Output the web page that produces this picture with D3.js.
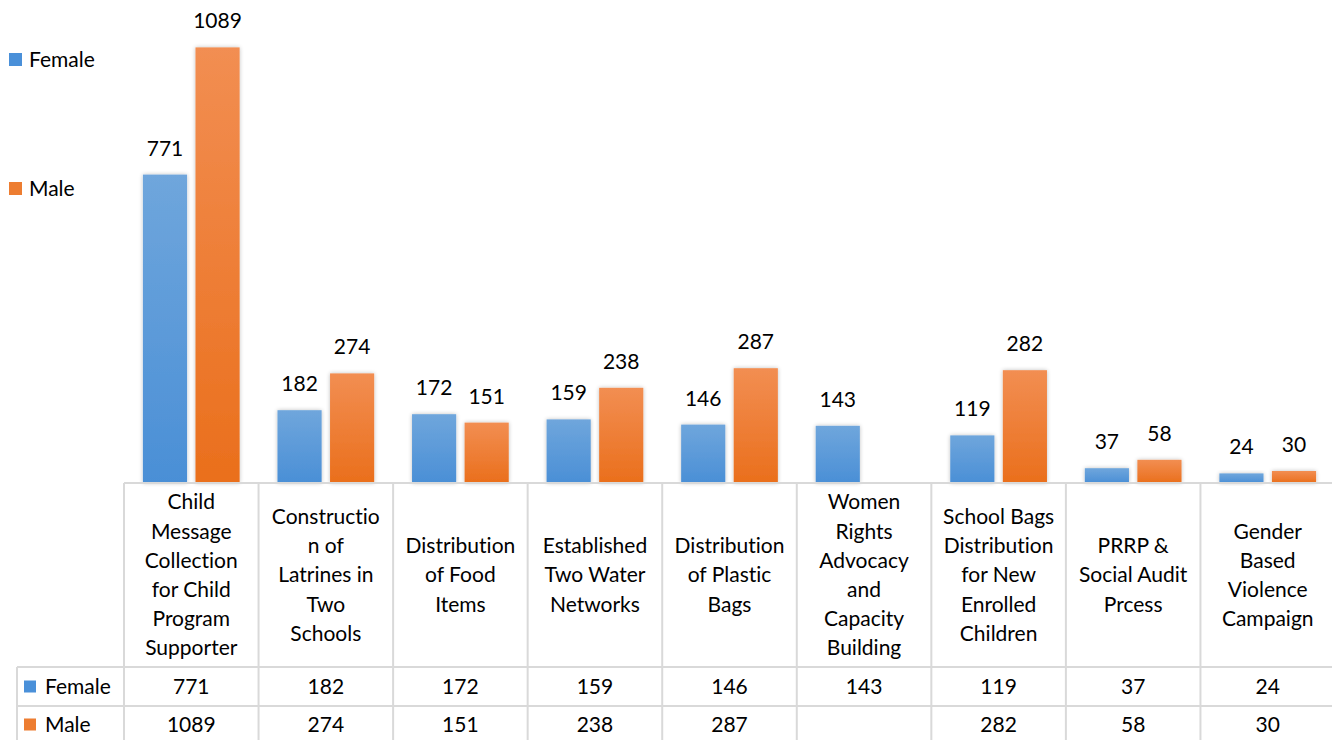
<!DOCTYPE html>
<html><head><meta charset="utf-8">
<script src="https://cdn.jsdelivr.net/npm/d3@7"></script>
<style>body{margin:0;background:#fff}svg{display:block}text{font-variant-ligatures:none;font-feature-settings:"liga" 0}</style>
</head><body>
<script>
const categories = [
  ["Child","Message","Collection","for Child","Program","Supporter"],
  ["Constructio","n of","Latrines in","Two","Schools"],
  ["Distribution","of Food","Items"],
  ["Established","Two Water","Networks"],
  ["Distribution","of Plastic","Bags"],
  ["Women","Rights","Advocacy","and","Capacity","Building"],
  ["School Bags","Distribution","for New","Enrolled","Children"],
  ["PRRP &","Social Audit","Prcess"],
  ["Gender","Based","Violence","Campaign"]
];
const seriesNames = ["Female","Male"];
const female = [771,182,172,159,146,143,119,37,24];
const male = [1089,274,151,238,287,null,282,58,30];

const W=1332,H=740;
const svg=d3.select("body").append("svg").attr("width",W).attr("height",H);
const font="Lato, 'Open Sans', sans-serif";
const fs=21;
const defs=svg.append("defs");
function grad(id,c1,c2){const g=defs.append("linearGradient").attr("id",id).attr("x1",0).attr("y1",0).attr("x2",0).attr("y2",1);
 g.append("stop").attr("offset","0%").attr("stop-color",c1);g.append("stop").attr("offset","100%").attr("stop-color",c2);}
grad("gF","#6fa6dc","#4a8fd6");
grad("gM","#f28e52","#ea6f1c");
const f=defs.append("filter").attr("id","sh").attr("x","-30%").attr("y","-30%").attr("width","160%").attr("height","160%");
f.append("feGaussianBlur").attr("in","SourceAlpha").attr("stdDeviation",2).attr("result","b");
f.append("feComponentTransfer").attr("in","b").attr("result","b2").append("feFuncA").attr("type","linear").attr("slope",0.25);
const m=f.append("feMerge");m.append("feMergeNode").attr("in","b2");m.append("feMergeNode").attr("in","SourceGraphic");

const x0=d3.scaleBand().domain(d3.range(categories.length)).range([124,1335]).paddingInner(0).paddingOuter(0);
const x1=d3.scaleBand().domain(seriesNames).range([0,x0.bandwidth()]).paddingInner(0.16).paddingOuter(0.36);
const y=d3.scaleLinear().domain([0,1200]).range([483,3]);
const series=[{name:"Female",vals:female,fill:"url(#gF)",key:"#4a90d9"},{name:"Male",vals:male,fill:"url(#gM)",key:"#ed7d31"}];

series.forEach(s=>{
  const g=svg.append("g");
  s.vals.forEach((v,i)=>{
    if(v==null) return;
    const bx=x0(i)+x1(s.name);
    g.append("rect").attr("x",bx).attr("y",y(v)).attr("width",x1.bandwidth()).attr("height",y(0)-y(v)).attr("fill",s.fill).attr("filter","url(#sh)");
    g.append("text").attr("x",bx+x1.bandwidth()/2).attr("y",y(v)-19).attr("text-anchor","middle").attr("font-family",font).attr("font-size",fs).attr("fill","#000").text(v);
  });
});

// table
const lc="#d9d9d9";
const tTop=483,hBot=667,r1=706,r2=745;
const tl=svg.append("g").attr("stroke",lc).attr("stroke-width",2);
tl.append("line").attr("x1",124).attr("x2",1335).attr("y1",tTop).attr("y2",tTop);
tl.append("line").attr("x1",17).attr("x2",1335).attr("y1",hBot).attr("y2",hBot);
tl.append("line").attr("x1",17).attr("x2",1335).attr("y1",r1).attr("y2",r1);
tl.append("line").attr("x1",17).attr("x2",17).attr("y1",hBot).attr("y2",r2);
d3.range(categories.length+1).forEach(i=>{
  const xx= i<categories.length? x0(i): 1335;
  tl.append("line").attr("x1",xx).attr("x2",xx).attr("y1",tTop).attr("y2",r2);
});
const lh=29.2;
categories.forEach((lines,i)=>{
  const cx=x0(i)+x0.bandwidth()/2;
  const cy=(tTop+hBot)/2;
  const start=cy-(lines.length-1)*lh/2;
  lines.forEach((t,j)=>{
    svg.append("text").attr("x",cx).attr("y",start+j*lh).attr("dy","0.35em").attr("text-anchor","middle").attr("font-family",font).attr("font-size",fs).attr("fill","#000").text(t);
  });
  [female[i],male[i]].forEach((v,k)=>{
    if(v==null) return;
    const rc=k==0?(hBot+r1)/2:(r1+r2)/2-1;
    svg.append("text").attr("x",cx).attr("y",rc).attr("dy","0.35em").attr("text-anchor","middle").attr("font-family",font).attr("font-size",fs).attr("fill","#000").text(v);
  });
});
series.forEach((s,k)=>{
  const rc=k==0?(hBot+r1)/2:(r1+r2)/2-1;
  svg.append("rect").attr("x",24).attr("y",rc-6).attr("width",12).attr("height",12).attr("fill",s.key);
  svg.append("text").attr("x",45).attr("y",rc).attr("dy","0.35em").attr("font-family",font).attr("font-size",fs).attr("fill","#000").text(s.name);
});
// legend
[60,189].forEach((ly,k)=>{
  const s=series[k];
  svg.append("rect").attr("x",9).attr("y",ly-7).attr("width",13).attr("height",13).attr("fill",s.key);
  svg.append("text").attr("x",29).attr("y",ly).attr("dy","0.35em").attr("font-family",font).attr("font-size",fs).attr("fill","#000").text(s.name);
});
</script>
</body></html>
